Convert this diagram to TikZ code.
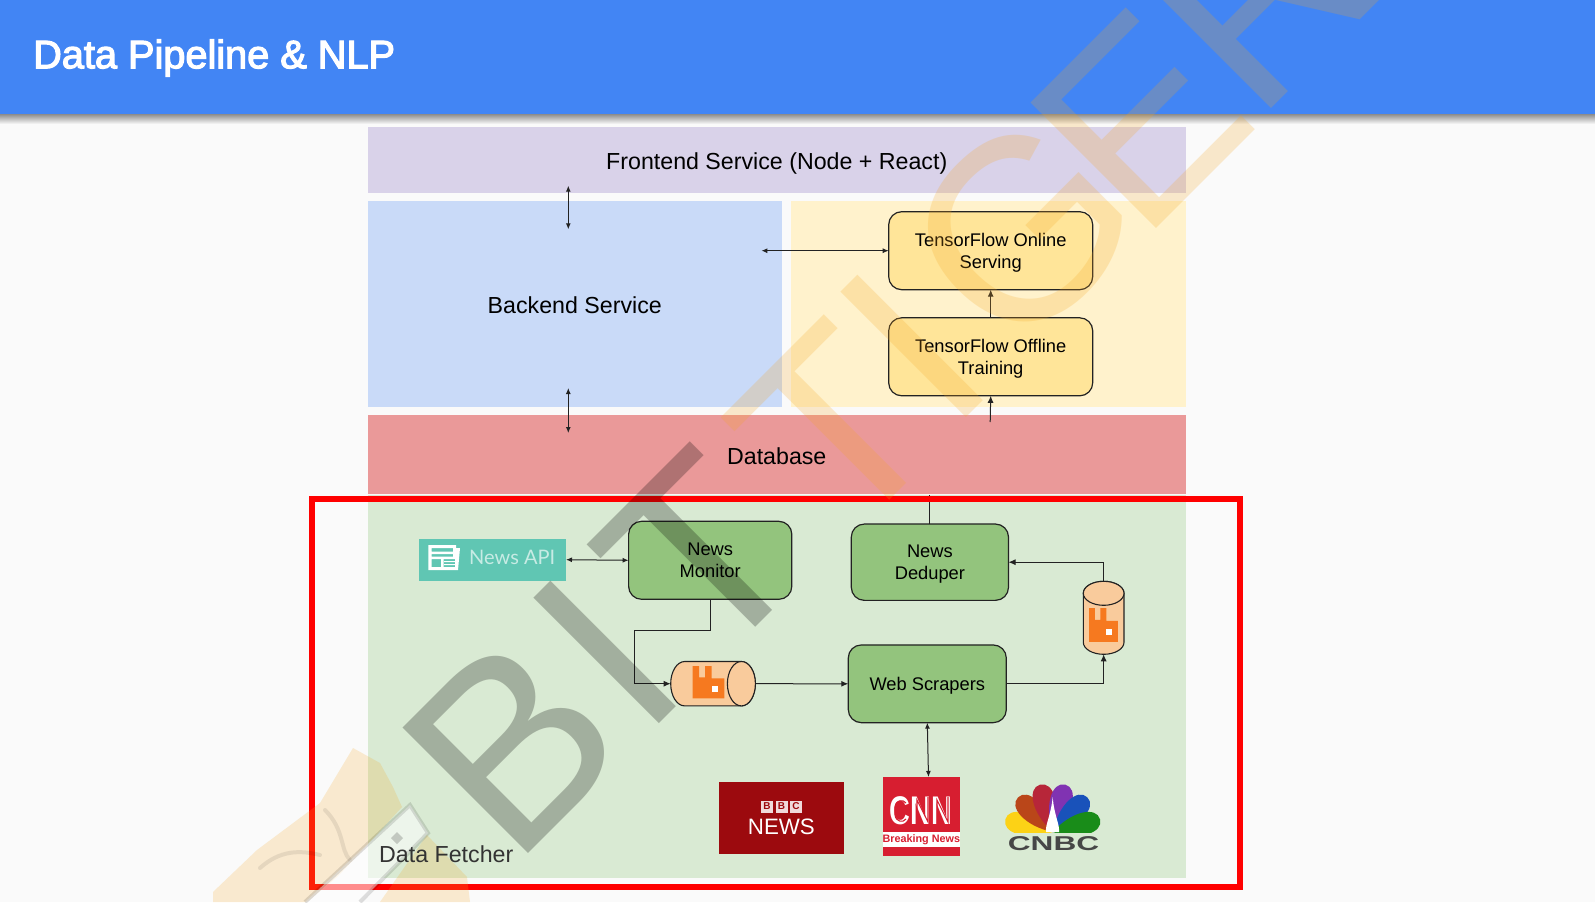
\documentclass[tikz,border=0pt]{standalone}
\usepackage{fontspec}
\usepackage{graphicx}
\usetikzlibrary{arrows.meta}
\setmainfont{Liberation Sans}
\newfontfamily\titlefont[FakeBold=3]{Liberation Sans}
\newfontfamily\apifont{Lato}
\definecolor{pagebg}{HTML}{FAFAFA}
\definecolor{hdr}{HTML}{4285F4}
\definecolor{fe}{HTML}{D9D2E9}
\definecolor{be}{HTML}{C9DAF8}
\definecolor{ml}{HTML}{FFF2CC}
\definecolor{dbc}{HTML}{EA9999}
\definecolor{df}{HTML}{D9EAD3}
\definecolor{ybox}{HTML}{FFE599}
\definecolor{gbox}{HTML}{93C47D}
\definecolor{cyl}{HTML}{F9CB9C}
\definecolor{rab}{HTML}{F6791F}
\definecolor{api}{HTML}{60C6B3}
\definecolor{bbc}{HTML}{9C0A0E}
\definecolor{cnnr}{HTML}{D71E30}
\definecolor{wmo}{HTML}{F5A623}
\definecolor{edge}{HTML}{222222}
\tikzset{
  x=1pt,y=-1pt,
  panel/.style={rectangle,inner sep=0pt,outer sep=0pt,font=\fontsize{23.2}{27}\selectfont,text=black,text height=19pt,text depth=0pt},
  roundbox/.style={rectangle,rounded corners=13pt,draw=edge,line width=1.2pt,inner sep=0pt,outer sep=0pt,
    align=center,font=\fontsize{18.3}{22.5}\selectfont,text=black,text depth=0pt},
  ybx/.style={roundbox,fill=ybox,minimum width=204pt,minimum height=78pt},
  gbx/.style={roundbox,fill=gbox},
  conn/.style={draw=edge,line width=1pt},
  both/.style={conn,{Latex[length=6pt,width=5pt]}-{Latex[length=6pt,width=5pt]}},
  to/.style={conn,-{Latex[length=7pt,width=6pt]}},
  cylbody/.style={draw=edge,line width=1.1pt,fill=cyl},
  anchorbox/.style={rectangle,inner sep=0pt,outer sep=0pt},
  wmg/.style={text=black,text opacity=.25,rotate=45,inner sep=0pt,font=\fontsize{258}{258}\selectfont},
  wmy/.style={text=wmo,text opacity=.22,rotate=45,inner sep=0pt,font=\fontsize{258}{258}\selectfont},
}
\newcommand{\rabbitlogo}[4]{%
  \begin{scope}[shift={(#1,#2)},x=#3pt,y=-#4pt]
    \fill[rab] (0,0) -- (19,0) -- (19,34) -- (37,34) -- (37,0) -- (57,0) -- (57,37) -- (95,37) -- (95,97) -- (0,97) -- cycle;
    \fill[white] (57,59) rectangle (77,77);
  \end{scope}}
\newcommand{\peacock}[2]{%
  \begin{scope}[rotate around={#1:(1052.7,832)}]
    \fill[#2] (1052.7,832) .. controls (1037,808) and (1039,783) .. (1052.7,783) .. controls (1066.4,783) and (1068.4,808) .. (1052.7,832) -- cycle;
  \end{scope}}
\begin{document}
\begin{tikzpicture}
\path[use as bounding box,clip] (0,0) rectangle (1595,902);
\fill[pagebg] (0,0) rectangle (1595,902);
% header
\shade[top color=black!45,bottom color=pagebg] (0,114) rectangle (1595,124);
\node[rectangle,fill=hdr,inner sep=0pt,outer sep=0pt,minimum width=1595pt,minimum height=114pt] (header) at (797.5,57) {};
\node[anchor=west,inner sep=0pt,text=white,font=\titlefont\fontsize{39.7}{44}\selectfont] (title) at (33,58) {Data Pipeline \& NLP};
% panels
\node[panel,fill=fe,minimum width=818.5pt,minimum height=66pt] (front) at (776.75,160) {Frontend Service (Node + React)};
\node[panel,fill=be,minimum width=414.5pt,minimum height=206.5pt] (back) at (574.75,304) {Backend Service};
\node[panel,fill=ml,minimum width=395.5pt,minimum height=206.5pt] (mlp) at (988.25,304) {};
\node[panel,fill=dbc,minimum width=818.5pt,minimum height=79pt] (db) at (776.75,454.5) {Database};
\node[panel,fill=df,minimum width=818.5pt,minimum height=383pt] (fetch) at (776.75,686.5) {};
% boxes
\node[ybx] (onl) at (990.7,250.7) {TensorFlow Online\\Serving};
\node[ybx] (off) at (990.7,356.8) {TensorFlow Offline\\Training};
\node[gbx,minimum width=163.2pt,minimum height=78pt] (mon) at (710.2,560.3) {News\\Monitor};
\node[gbx,minimum width=157.2pt,minimum height=76.3pt] (ded) at (929.9,562.2) {News\\Deduper};
\node[gbx,minimum width=158pt,minimum height=77.7pt] (web) at (927.3,683.8) {Web Scrapers};
% news api
\node[rectangle,fill=api,inner sep=0pt,outer sep=0pt,minimum width=147.4pt,minimum height=42pt] (napi) at (492.3,559.7) {};
\node[anchor=west,inner sep=0pt,text=white!65!api,font=\apifont\fontsize{20}{24}\selectfont] (napilabel) at (469,557) {News API};
\fill[white,even odd rule] (428.3,545) -- (456,545) -- (456,548) -- (460,548) -- (458,570) -- (428.3,570) -- cycle
  (431.5,548) rectangle (453,551.5) (431.5,554) rectangle (453,556.5) (431.5,559) rectangle (441,567) (443.5,559) rectangle (455,567);
\fill[white] (444,561) rectangle (455,562) (444,564) rectangle (455,565);
% cylinders
\node[anchorbox,minimum width=84.7pt,minimum height=44.4pt] (hc) at (713,683.7) {};
\draw[cylbody] (684.7,661.5) arc[start angle=90,end angle=270,x radius=14pt,y radius=22.2pt] -- (741.4,705.9) arc[start angle=270,end angle=450,x radius=14pt,y radius=22.2pt] -- cycle;
\draw[cylbody] (741.4,683.7) ellipse[x radius=14pt,y radius=22.2pt];
\rabbitlogo{692.7}{666}{.3326}{.333}
\node[anchorbox,minimum width=40.7pt,minimum height=73pt] (vc) at (1103.65,617.8) {};
\draw[cylbody] (1083.3,593.3) -- (1083.3,642.3) arc[start angle=180,end angle=360,x radius=20.35pt,y radius=12pt] -- (1124,593.3) arc[start angle=0,end angle=180,x radius=20.35pt,y radius=12pt] -- cycle;
\draw[cylbody] (1103.65,593.3) ellipse[x radius=20.35pt,y radius=12pt];
\rabbitlogo{1089}{608}{.305}{.35}
% logos
\node[rectangle,fill=bbc,inner sep=0pt,outer sep=0pt,minimum width=125.8pt,minimum height=72pt] (bbcn) at (781.4,818) {};
\foreach \n/\t/\xx in {b1/B/767,b2/B/781.5,b3/C/796}{
  \node[rectangle,fill=white!85!bbc,inner sep=0pt,minimum width=12pt,minimum height=12pt,text=bbc,font=\bfseries\fontsize{10}{10}\selectfont] (\n) at (\xx,806.5) {\t};
}
\node[inner sep=0pt,text=white,font=\fontsize{22.3}{24}\selectfont] (bbctext) at (781.4,827.3) {NEWS};
\node[rectangle,fill=cnnr,inner sep=0pt,outer sep=0pt,minimum width=76.7pt,minimum height=78.7pt] (cnn) at (921.3,816.3) {};
\node[rectangle,fill=white,inner sep=0pt,outer sep=0pt,minimum width=76.7pt,minimum height=15pt,text=cnnr,font=\bfseries\fontsize{10.8}{12}\selectfont] (cnnband) at (921.3,839.8) {Breaking News};
\node[inner sep=0pt,text=white,font=\bfseries\fontsize{40}{40}\selectfont] (cnntext) at (921,811) {\scalebox{.72}[1]{CNN}};
\draw[cnnr,line width=1.1pt] (906,803) .. controls (903,799) and (896,800) .. (895,807) -- (895,815) .. controls (896,822) and (903,823) .. (906,819);
\draw[cnnr,line width=1.1pt] (917,825) -- (917,800) -- (928,822) -- (928,797);
\draw[cnnr,line width=1.1pt] (937,825) -- (937,800) -- (948,822) -- (948,797);
% cnbc
\begin{scope}
  \clip (1000,775) rectangle (1105,832);
  \peacock{75}{white!10!yellow!70!orange}
  \peacock{45}{orange!55!red!70!black!90!white}
  \peacock{15}{red!55!purple!75!black!85!white}
  \peacock{-15}{blue!50!purple!80!white}
  \peacock{-45}{blue!65!cyan!70!black!90!white}
  \peacock{-75}{green!50!black!90!white}
  \fill[white] (1052.7,797) .. controls (1054,815) and (1060,825) .. (1059,832) -- (1046,832) .. controls (1045,825) and (1051,815) .. (1052.7,797) -- cycle;
\end{scope}
\node[inner sep=0pt,text=black!72,font=\bfseries\fontsize{20}{20}\selectfont] (cnbc) at (1053.5,844) {\scalebox{1.58}[1]{CNBC}};
% connectors
\coordinate (a1) at (568.3,185.7);
\coordinate (a2) at (568.3,229.3);
\coordinate (a3) at (568.3,388);
\coordinate (a4) at (568.3,433);
\coordinate (a5) at (761.4,250.7);
\coordinate (a6) at (990.2,422);
\coordinate (a7) at (929.9,495);
\coordinate (mb) at (634,630.3);
\draw[both] (a1) -- (a2);
\draw[both] (a3) -- (a4);
\draw[both] (a5) -- (onl.west);
\draw[to] (off.north) -- (onl.south);
\draw[to] (a6) -- (off.south);
\draw[conn] (ded.north) -- (a7);
\draw[both] (napi.east) -- (mon.west);
\draw[to] (mon.south) |- (mb) |- (hc.west);
\draw[to] (hc.east) -- (web.west);
\draw[to] (web.east) -| (vc.south);
\draw[to] (vc.north) |- (ded.east);
\draw[both] (web.south) -- ([xshift=7.2pt]cnn.north);
% frame
\draw[red,line width=6pt] (312,499) rectangle (1240,887);
% watermark
\node[wmg] (w1) at (512,745) {B};
\node[wmg] (w2) at (605,652) {I};
\node[wmg] (w3) at (701,556) {T};
\node[wmy] (w4) at (835,429) {T};
\node[wmy] (w5) at (912,346) {I};
\node[wmy] (w6) at (1022,230) {G};
\node[wmy] (w7) at (1140,120) {E};
\node[wmy] (w8) at (1260,-5) {R};
% bottom-left mark
\fill[wmo,opacity=.2] (213,892) -- (257,850) -- (320,803) -- (353,748) -- (380,763) -- (393,787) -- (402,807) -- (360,853) -- (337,877) -- (307,902) -- (213,902) -- cycle;
\fill[wmo,opacity=.2] (427,835) -- (467,877) -- (470,902) -- (380,902) -- cycle;
\draw[black,opacity=.08,line width=4pt,line cap=round] (325,810) .. controls (345,830) and (340,850) .. (350,860) (260,868) .. controls (280,850) and (300,850) .. (320,855);
\fill[white,opacity=.55] (410,805) -- (428,833) -- (360,902) -- (305,902) -- cycle;
\draw[black,opacity=.12,line width=4pt] (305,902) -- (410,805) -- (428,833) -- (360,902);
\fill[black,opacity=.18] (397,832) -- (403,838) -- (397,844) -- (391,838) -- cycle;
\node[anchor=west,inner sep=0pt,text=black!80,font=\fontsize{23.2}{27}\selectfont] (fetchlabel) at (379,854) {Data Fetcher};
\end{tikzpicture}
\end{document}
